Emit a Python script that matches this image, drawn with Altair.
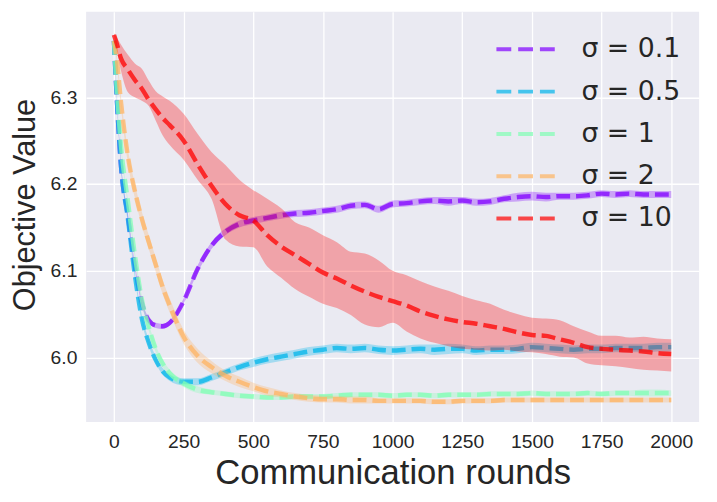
import altair as alt
import pandas as pd

rounds = [0, 10, 25, 50, 75, 100, 125, 150, 175, 200,
          250, 300, 350, 400, 450, 500, 550, 600, 650, 700,
          750, 800, 850, 900, 950, 1000, 1050, 1100, 1150, 1200,
          1250, 1300, 1350, 1400, 1450, 1500, 1550, 1600, 1650, 1700,
          1750, 1800, 1850, 1900, 1950, 2000]

labels = ["σ = 0.1", "σ = 0.5", "σ = 1", "σ = 2", "σ = 10"]
colors = ["#8000ff", "#00b5eb", "#80ffb4", "#ffb462", "#ff0000"]

mean_s01 = [6.365, 6.300, 6.222, 6.163, 6.105, 6.063, 6.043, 6.037, 6.036, 6.040,
            6.065, 6.102, 6.129, 6.145, 6.154, 6.158, 6.161, 6.164, 6.166, 6.167,
            6.169, 6.171, 6.175, 6.176, 6.171, 6.177, 6.178, 6.180, 6.181, 6.180,
            6.181, 6.179, 6.180, 6.183, 6.185, 6.186, 6.185, 6.186, 6.186, 6.187,
            6.189, 6.188, 6.189, 6.188, 6.188, 6.188]
hw_s01 = [0.001, 0.002, 0.003, 0.003, 0.003, 0.003, 0.003, 0.003, 0.003, 0.003,
          0.003, 0.004, 0.004, 0.004, 0.004, 0.004, 0.004, 0.004, 0.004, 0.004,
          0.004, 0.004, 0.004, 0.004, 0.004, 0.004, 0.004, 0.004, 0.004, 0.005,
          0.004, 0.004, 0.004, 0.004, 0.005, 0.005, 0.005, 0.004, 0.004, 0.004,
          0.004, 0.004, 0.004, 0.004, 0.004, 0.004]

mean_s05 = [6.365, 6.300, 6.222, 6.160, 6.095, 6.045, 6.017, 5.997, 5.984, 5.977,
            5.972, 5.972, 5.977, 5.983, 5.989, 5.994, 5.998, 6.001, 6.004, 6.007,
            6.009, 6.011, 6.010, 6.011, 6.009, 6.008, 6.009, 6.010, 6.009, 6.010,
            6.010, 6.008, 6.009, 6.009, 6.010, 6.012, 6.011, 6.010, 6.009, 6.010,
            6.010, 6.011, 6.011, 6.011, 6.012, 6.012]
hw_s05 = [0.001, 0.002, 0.003, 0.004, 0.004, 0.004, 0.004, 0.004, 0.004, 0.004,
          0.004, 0.004, 0.004, 0.004, 0.004, 0.005, 0.005, 0.005, 0.005, 0.005,
          0.005, 0.005, 0.005, 0.005, 0.005, 0.005, 0.005, 0.005, 0.006, 0.006,
          0.005, 0.005, 0.005, 0.005, 0.005, 0.005, 0.005, 0.005, 0.005, 0.005,
          0.005, 0.005, 0.005, 0.005, 0.005, 0.005]

mean_s1 = [6.365, 6.310, 6.245, 6.180, 6.118, 6.067, 6.035, 6.010, 5.993, 5.982,
           5.970, 5.963, 5.960, 5.958, 5.956, 5.955, 5.954, 5.954, 5.955, 5.955,
           5.955, 5.956, 5.957, 5.957, 5.957, 5.956, 5.957, 5.957, 5.956, 5.957,
           5.957, 5.957, 5.958, 5.958, 5.958, 5.959, 5.958, 5.958, 5.958, 5.959,
           5.958, 5.959, 5.959, 5.959, 5.959, 5.959]
hw_s1 = [0.001, 0.002, 0.003, 0.003, 0.004, 0.004, 0.004, 0.004, 0.004, 0.004,
         0.004, 0.004, 0.003, 0.003, 0.003, 0.003, 0.003, 0.003, 0.003, 0.003,
         0.003, 0.003, 0.003, 0.003, 0.003, 0.003, 0.003, 0.003, 0.003, 0.003,
         0.003, 0.003, 0.003, 0.003, 0.003, 0.003, 0.003, 0.003, 0.003, 0.003,
         0.003, 0.003, 0.003, 0.004, 0.004, 0.003]

mean_s2 = [6.365, 6.345, 6.295, 6.232, 6.192, 6.160, 6.133, 6.107, 6.081, 6.060,
           6.024, 6.002, 5.989, 5.979, 5.972, 5.966, 5.961, 5.958, 5.955, 5.953,
           5.952, 5.952, 5.951, 5.951, 5.950, 5.950, 5.950, 5.950, 5.949, 5.949,
           5.950, 5.950, 5.950, 5.951, 5.951, 5.951, 5.951, 5.951, 5.951, 5.951,
           5.951, 5.951, 5.951, 5.951, 5.951, 5.951]
hw_s2 = [0.001, 0.004, 0.006, 0.008, 0.008, 0.008, 0.008, 0.008, 0.008, 0.008,
         0.008, 0.008, 0.007, 0.006, 0.006, 0.005, 0.005, 0.004, 0.004, 0.004,
         0.004, 0.004, 0.004, 0.004, 0.003, 0.003, 0.003, 0.003, 0.003, 0.003,
         0.003, 0.003, 0.003, 0.003, 0.003, 0.003, 0.003, 0.003, 0.003, 0.003,
         0.003, 0.003, 0.003, 0.003, 0.003, 0.003]

mean_s10 = [6.372, 6.362, 6.345, 6.332, 6.320, 6.310, 6.297, 6.286, 6.276, 6.268,
            6.250, 6.223, 6.198, 6.177, 6.164, 6.158, 6.141, 6.128, 6.118, 6.108,
            6.098, 6.091, 6.083, 6.076, 6.070, 6.065, 6.060, 6.053, 6.048, 6.044,
            6.041, 6.039, 6.036, 6.033, 6.029, 6.026, 6.025, 6.021, 6.017, 6.012,
            6.010, 6.009, 6.008, 6.007, 6.005, 6.004]
hi_s10 = [6.374, 6.369, 6.361, 6.349, 6.339, 6.333, 6.319, 6.307, 6.301, 6.296,
          6.281, 6.258, 6.237, 6.222, 6.205, 6.193, 6.183, 6.172, 6.156, 6.150,
          6.141, 6.133, 6.122, 6.120, 6.112, 6.100, 6.095, 6.088, 6.082, 6.077,
          6.071, 6.066, 6.062, 6.055, 6.050, 6.046, 6.045, 6.043, 6.036, 6.030,
          6.025, 6.025, 6.023, 6.024, 6.022, 6.021]
lo_s10 = [6.370, 6.355, 6.331, 6.306, 6.300, 6.296, 6.290, 6.273, 6.256, 6.245,
          6.228, 6.205, 6.183, 6.136, 6.128, 6.127, 6.105, 6.092, 6.079, 6.070,
          6.062, 6.057, 6.049, 6.038, 6.035, 6.040, 6.030, 6.022, 6.017, 6.013,
          6.010, 6.009, 6.008, 6.009, 6.007, 6.006, 6.004, 6.001, 6.000, 5.993,
          5.991, 5.990, 5.988, 5.986, 5.985, 5.984]

x_ticks = [0, 250, 500, 750, 1000, 1250, 1500, 1750, 2000]
y_ticks = [6.0, 6.1, 6.2, 6.3]

rows = []
def add(label, means, los, his):
    for x, m, lo, hi in zip(rounds, means, los, his):
        rows.append({"x": x, "series": label, "mean": m, "lo": lo, "hi": hi})

for lab, m, hw in [(labels[0], mean_s01, hw_s01), (labels[1], mean_s05, hw_s05),
                   (labels[2], mean_s1, hw_s1), (labels[3], mean_s2, hw_s2)]:
    add(lab, m, [a - b for a, b in zip(m, hw)], [a + b for a, b in zip(m, hw)])
add(labels[4], mean_s10, lo_s10, hi_s10)

df = pd.DataFrame(rows)

x_enc = alt.X("x:Q",
              scale=alt.Scale(domain=[-100, 2100], nice=False, zero=False),
              axis=alt.Axis(values=x_ticks, format="d", title="Communication rounds",
                            titleFontSize=35, titleX=310, titleY=62,
                            titleBaseline="alphabetic", labelPadding=10.3,
                            grid=True))
y_scale = alt.Scale(domain=[5.9256, 6.3987], nice=False, zero=False)
y_axis = alt.Axis(values=y_ticks, format=".1f", title="Objective Value",
                  titleFontSize=31, titleAngle=270, titleX=-52, titleY=195,
                  titleBaseline="alphabetic", titleAlign="center",
                  labelPadding=9.3, grid=True)

legend = alt.Legend(title=None, orient="none", legendX=413, legendY=24.5,
                    symbolType="stroke", symbolSize=3481, symbolStrokeWidth=4,
                    symbolDash=[15, 7], symbolOpacity=0.7,
                    labelFont="DejaVu Sans", labelFontSize=27, labelColor="#262626",
                    labelOffset=25, rowPadding=14.8, clipHeight=27, padding=0,
                    labelLimit=300)

base = alt.Chart(df)
layers = []
for lab, col in zip(labels, colors):
    sub = base.transform_filter(alt.datum.series == lab)
    line = sub.mark_line(strokeWidth=4.5, strokeDash=[14, 6], opacity=0.75,
                         interpolate="monotone").encode(
        x=x_enc,
        y=alt.Y("mean:Q", scale=y_scale, axis=y_axis),
        stroke=alt.Stroke("series:N", scale=alt.Scale(domain=labels, range=colors),
                          legend=legend),
    )
    band = sub.mark_area(color=col, opacity=0.3, interpolate="monotone").encode(
        x=x_enc,
        y=alt.Y("lo:Q", scale=y_scale, axis=y_axis),
        y2="hi:Q",
    )
    layers += [line, band]

chart = alt.layer(*layers).properties(
    width=620, height=415,
    autosize=alt.AutoSizeParams(type="none"),
    padding={"left": 79, "top": 1, "right": 10, "bottom": 70},
    background="white",
).configure_view(
    fill="#eaeaf2", strokeWidth=0
).configure_axis(
    gridColor="white", gridWidth=1.3, domain=False, ticks=False, tickSize=0,
    labelFont="Liberation Sans", labelFontSize=19.5, labelColor="#262626",
    titleFont="Liberation Sans", titleFontWeight="normal", titleColor="#262626",
)

chart.save("out.html", embed_options={"renderer": "svg", "actions": False})
